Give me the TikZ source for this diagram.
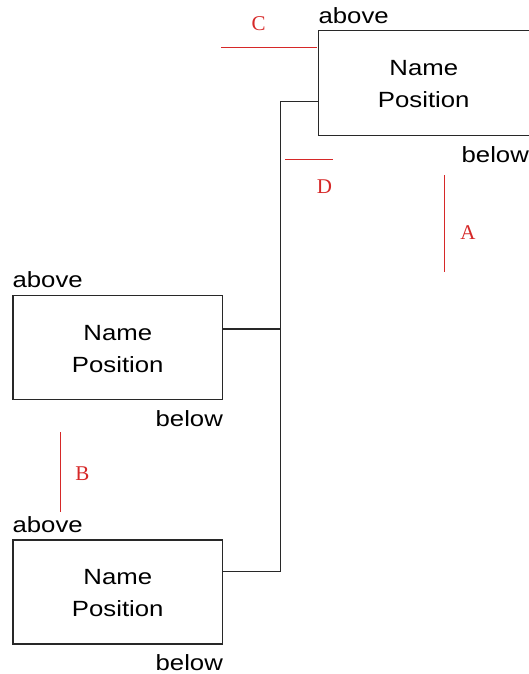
\documentclass[tikz,border=0pt]{standalone}
\usepackage{fontspec}
\setmainfont{Liberation Sans}[FakeStretch=1.17]
\newfontfamily\labelserif{Liberation Serif}
\usetikzlibrary{calc}
\definecolor{wirecol}{RGB}{40,40,40}
\definecolor{markred}{RGB}{214,40,40}
\begin{document}
\begin{tikzpicture}[x=1pt,y=-1pt,
  box/.style={draw=wirecol,line width=1.2pt,rectangle,minimum width=209.5pt,minimum height=104pt,inner sep=0pt},
  txt/.style={font=\fontsize{22}{32}\selectfont,inner sep=0pt,text=black},
  wire/.style={draw=wirecol,line width=1.2pt},
  redline/.style={draw=markred,line width=1.2pt},
  redlab/.style={font=\labelserif\fontsize{21}{24}\selectfont,text=markred,inner sep=0pt,anchor=base}]
\useasboundingbox (0,0) rectangle (528,674);
% boxes
\node[box,draw=none] (b1) at (423.75,83) {};
\draw[wire] ([xshift=10pt]b1.north east) -- (b1.north west) -- (b1.south west) -- ([xshift=10pt]b1.south east);
\node[box] (b2) at (117.75,347.5) {};
\node[box] (b3) at (117.75,592) {};
% texts
\foreach \b in {b1,b2,b3}{
  \node[txt,anchor=base west] (\b a) at ([yshift=7pt]\b.north west) {above};
  \node[txt,anchor=base] (\b n) at ([yshift=-45.5pt]\b.north) {Name};
  \node[txt,anchor=base] (\b p) at ([yshift=-77.5pt]\b.north) {Position};
}
\node[txt,anchor=base east] (b1b) at ([yshift=-27pt]b1.south east) {below};
\node[txt,anchor=base east] (b2b) at ([yshift=-26pt]b2.south east) {below};
\node[txt,anchor=base east] (b3b) at ([yshift=-26pt]b3.south east) {below};
% connectors
\coordinate (p1) at ([yshift=-71pt]b1.north west);
\coordinate (p2) at ([yshift=-34pt]b2.north east);
\coordinate (p3) at ([yshift=-32pt]b3.north east);
\coordinate (sx) at (280.7,0);
\draw[wire] (p1) -- (p1 -| sx) -- (p3 -| sx) -- (p3);
\draw[wire] (p2) -- (p2 -| sx);
% red markers
\coordinate (c1) at (221,47.5);  \coordinate (c2) at (317,47.5);
\coordinate (d1) at (285,159.5); \coordinate (d2) at (333,159.5);
\coordinate (a1) at (444.5,175); \coordinate (a2) at (444.5,272);
\coordinate (e1) at (60.5,432);  \coordinate (e2) at (60.5,512);
\draw[redline] (c1) -- (c2);
\draw[redline] (d1) -- (d2);
\draw[redline] (a1) -- (a2);
\draw[redline] (e1) -- (e2);
\node[redlab] (lc) at (258.5,31) {C};
\node[redlab] (ld) at (324.5,193) {D};
\node[redlab] (la) at (468,239) {A};
\node[redlab] (lb) at (82.5,480) {B};
\end{tikzpicture}
\end{document}
